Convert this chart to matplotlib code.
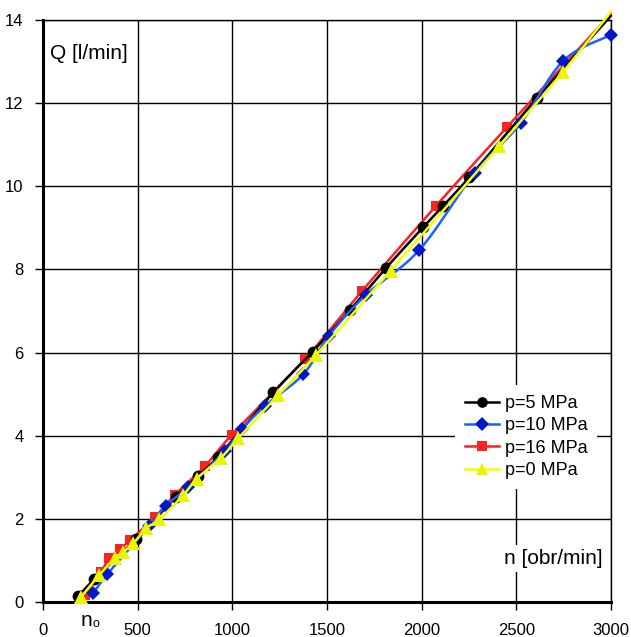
import numpy as np
import matplotlib
matplotlib.use("Agg")
import matplotlib.pyplot as plt

plt.rcParams['font.family'] = ['Liberation Sans', 'DejaVu Sans']

# ---- data ----
n_p5 = [187, 271, 491, 702, 820, 926, 1217, 1424, 1621, 1813, 2009, 2114, 2252, 2611, 3000]
q_p5 = [0.14, 0.55, 1.51, 2.53, 3.04, 3.50, 5.04, 6.02, 7.02, 8.04, 9.02, 9.53, 10.22, 12.13, 14.10]

n_p10 = [266, 340, 561, 650, 768, 961, 1049, 1173, 1375, 1511, 1706, 1988, 2282, 2523, 2748, 3000]
q_p10 = [0.21, 0.67, 1.83, 2.32, 2.77, 3.63, 4.15, 4.72, 5.48, 6.41, 7.39, 8.47, 10.33, 11.52, 13.02, 13.64]

n_p16 = [222, 305, 350, 407, 459, 591, 697, 856, 997, 1384, 1683, 2076, 2452, 3000]
q_p16 = [0.17, 0.71, 1.05, 1.27, 1.48, 2.04, 2.58, 3.27, 4.02, 5.85, 7.47, 9.53, 11.43, 14.15]

n_p0 = [199, 297, 380, 424, 477, 544, 614, 741, 812, 938, 1032, 1243, 1442, 1836, 2410, 2748, 3000]
q_p0 = [0.11, 0.65, 1.05, 1.21, 1.41, 1.77, 1.99, 2.57, 2.97, 3.46, 3.94, 4.98, 5.94, 7.97, 10.97, 12.76, 14.20]

labels = ['p=5 MPa', 'p=10 MPa', 'p=16 MPa', 'p=0 MPa']
xticks = [0, 500, 1000, 1500, 2000, 2500, 3000]
yticks = [0, 2, 4, 6, 8, 10, 12, 14]


def smooth(x, y, steps=12):
    x = np.asarray(x, float); y = np.asarray(y, float)
    P = np.column_stack([x, y])
    P = np.vstack([P[0], P, P[-1]])
    out = []
    for i in range(1, len(P) - 2):
        p0, p1, p2, p3 = P[i - 1], P[i], P[i + 1], P[i + 2]
        t = np.linspace(0, 1, steps, endpoint=False)[:, None]
        c = 0.5 * ((2 * p1) + (-p0 + p2) * t + (2 * p0 - 5 * p1 + 4 * p2 - p3) * t ** 2
                   + (-p0 + 3 * p1 - 3 * p2 + p3) * t ** 3)
        out.append(c)
    out.append(P[-2][None, :])
    out = np.vstack(out)
    return out[:, 0], out[:, 1]


fig = plt.figure(figsize=(6.31, 6.37), dpi=100)
ax = fig.add_axes([43 / 631, 35 / 637, 568 / 631, 582 / 637])

series = [
    (n_p5, q_p5, 'black', 'black', 'o', 8.5, 3, True),
    (n_p10, q_p10, '#1f5fff', '#0018c8', 'D', 7.5, 4, False),
    (n_p16, q_p16, '#ff2020', '#ff2020', 's', 7.5, 2, True),
    (n_p0, q_p0, '#f2ff00', '#eaf500', '^', 10, 5, True),
]
order_lbl = {}
for (xs, ys, lc, mc, mk, ms, z, skip_last), lab in zip(series, labels):
    sx, sy = smooth(xs, ys)
    ax.plot(sx, sy, color=lc, lw=1.8, zorder=z, clip_on=False, solid_capstyle='round')
    mx = xs[:-1] if skip_last else xs
    my = ys[:-1] if skip_last else ys
    ax.plot(mx, my, linestyle='none', marker=mk, color=mc, markersize=ms,
            markeredgewidth=0, zorder=z + 0.5, clip_on=False)
    h, = ax.plot([], [], color=lc, lw=1.8, marker=mk, markerfacecolor=mc,
                 markeredgewidth=0, markersize=ms * 0.9)
    order_lbl[lab] = h

ax.set_xlim(0, 3000)
ax.set_ylim(0, 14)
ax.set_xticks(xticks)
ax.set_yticks(yticks)
ax.set_xticklabels([str(v) for v in xticks])
ax.set_yticklabels([str(v) for v in yticks])
ax.grid(True, color='black', lw=1.0)
ax.set_axisbelow(True)
for s in ['top', 'right']:
    ax.spines[s].set_linewidth(1.0)
for s in ['left', 'bottom']:
    ax.spines[s].set_linewidth(2.2)
ax.tick_params(axis='x', direction='out', length=6, width=1.0, pad=9, labelsize=12)
ax.tick_params(axis='y', direction='out', length=6, width=1.0, pad=8, labelsize=12)

ax.text(0.012, 0.958, 'Q [l/min]', transform=ax.transAxes, fontsize=15,
        ha='left', va='top', zorder=8,
        bbox=dict(facecolor='white', edgecolor='none', pad=2))
ax.text(0.985, 0.075, 'n [obr/min]', transform=ax.transAxes, fontsize=15,
        ha='right', va='center', zorder=8,
        bbox=dict(facecolor='white', edgecolor='none', pad=3))
ax.annotate('n', xy=(227, 0), xycoords='data', xytext=(0, -13),
            textcoords='offset points', fontsize=15, ha='center', va='center',
            annotation_clip=False)
ax.annotate('o', xy=(227, 0), xycoords='data', xytext=(7.5, -16),
            textcoords='offset points', fontsize=9, ha='center', va='center',
            annotation_clip=False)

leg = ax.legend([order_lbl[l] for l in labels], labels, loc='upper left',
                bbox_to_anchor=(455 / 631, 1 - 385 / 637), bbox_transform=fig.transFigure,
                fontsize=13, frameon=True, fancybox=False, framealpha=1,
                facecolor='white', edgecolor='none', borderpad=0.55,
                borderaxespad=0, handlelength=1.9, handletextpad=0.3,
                labelspacing=0.3)
leg.set_zorder(10)

fig.savefig('out.png', dpi=100)
